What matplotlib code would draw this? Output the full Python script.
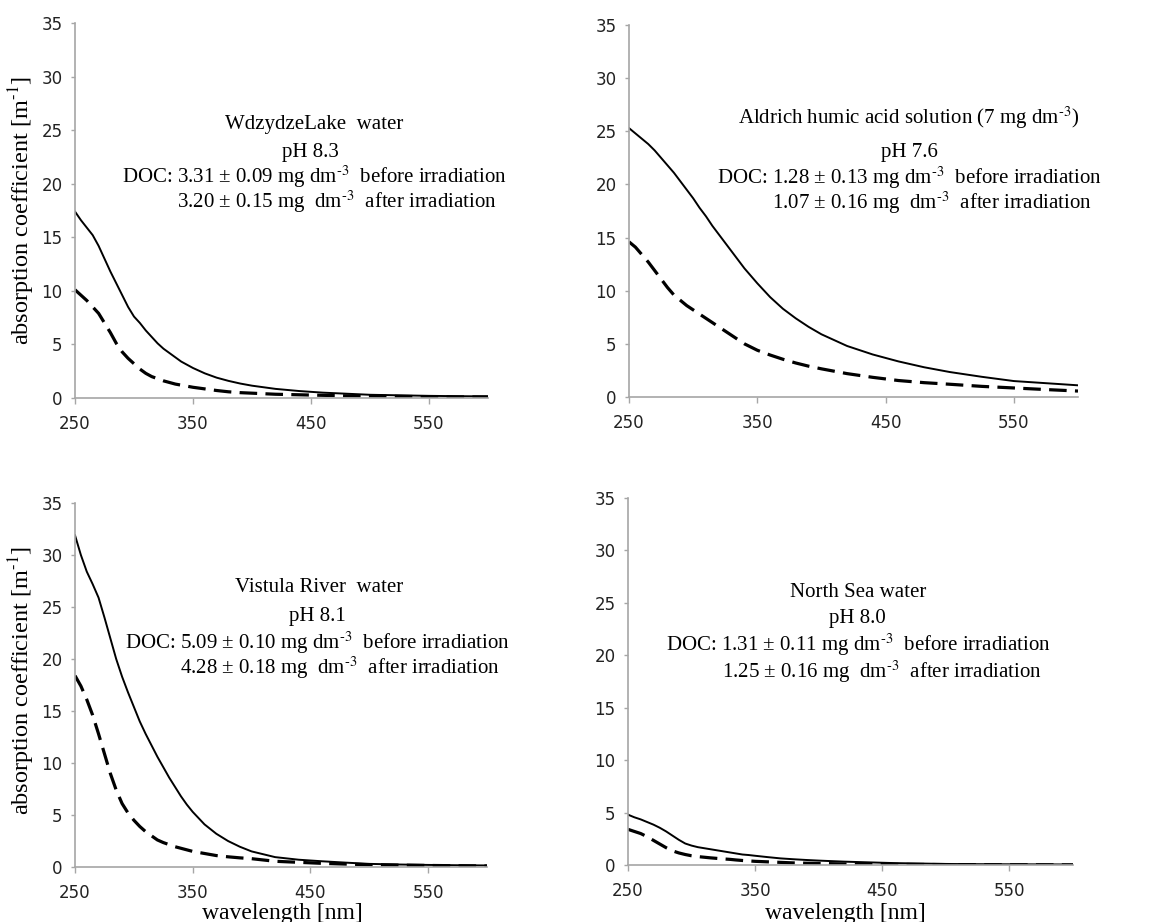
import matplotlib
matplotlib.use("Agg")
import matplotlib.pyplot as plt

# wavelength grid [nm] shared by all four panels
wavelength = [250, 255, 260, 265, 270, 275, 280, 285, 290, 295, 300, 305, 310, 315,
              320, 325, 330, 335, 340, 345, 350, 360, 370, 380, 390, 400,
              420, 440, 460, 480, 500, 525, 550, 575, 600]

# absorption coefficient [m-1], solid = before, dashed = after irradiation
wdzydze_before = [17.4, 16.6, 15.9, 15.2, 14.2, 13.0, 11.8, 10.7, 9.6, 8.5, 7.6, 7.0, 6.3, 5.7,
                  5.1, 4.6, 4.2, 3.8, 3.4, 3.1, 2.8, 2.3, 1.9, 1.6, 1.35, 1.15,
                  0.85, 0.65, 0.5, 0.4, 0.3, 0.25, 0.2, 0.17, 0.15]
wdzydze_after = [10.1, 9.6, 9.1, 8.5, 7.9, 7.0, 6.1, 5.1, 4.3, 3.7, 3.2, 2.7, 2.3, 2.0,
                 1.8, 1.6, 1.45, 1.3, 1.2, 1.1, 1.0, 0.85, 0.7, 0.58, 0.5, 0.45,
                 0.35, 0.3, 0.25, 0.2, 0.18, 0.15, 0.12, 0.1, 0.1]

aldrich_before = [25.3, 24.8, 24.3, 23.8, 23.2, 22.5, 21.8, 21.1, 20.3, 19.5, 18.7, 17.8, 17.0, 16.1,
                  15.3, 14.5, 13.7, 12.9, 12.1, 11.4, 10.7, 9.4, 8.3, 7.4, 6.6, 5.9,
                  4.8, 4.0, 3.35, 2.8, 2.35, 1.9, 1.5, 1.3, 1.1]
aldrich_after = [14.6, 14.1, 13.4, 12.7, 11.9, 11.1, 10.3, 9.6, 9.1, 8.6, 8.2, 7.8, 7.4, 7.0,
                 6.6, 6.2, 5.8, 5.4, 5.0, 4.7, 4.4, 3.95, 3.55, 3.2, 2.9, 2.65,
                 2.2, 1.85, 1.55, 1.35, 1.2, 1.0, 0.85, 0.7, 0.56]

vistula_before = [31.9, 30.0, 28.4, 27.2, 25.9, 24.0, 22.0, 20.0, 18.3, 16.8, 15.4, 14.0, 12.8, 11.7,
                  10.6, 9.6, 8.6, 7.7, 6.8, 6.0, 5.3, 4.1, 3.2, 2.5, 1.95, 1.5,
                  0.95, 0.7, 0.55, 0.42, 0.3, 0.24, 0.2, 0.17, 0.15]
vistula_after = [18.4, 17.4, 16.1, 14.6, 12.8, 10.9, 9.0, 7.4, 6.1, 5.2, 4.5, 3.9, 3.4, 3.0,
                 2.6, 2.35, 2.15, 1.95, 1.8, 1.65, 1.5, 1.3, 1.1, 0.98, 0.88, 0.8,
                 0.55, 0.45, 0.35, 0.28, 0.22, 0.18, 0.15, 0.12, 0.1]

northsea_before = [4.8, 4.55, 4.35, 4.1, 3.85, 3.55, 3.2, 2.8, 2.4, 2.05, 1.85, 1.7, 1.6, 1.5,
                   1.4, 1.3, 1.2, 1.1, 1.0, 0.95, 0.88, 0.75, 0.63, 0.55, 0.48, 0.42,
                   0.32, 0.25, 0.18, 0.14, 0.1, 0.08, 0.07, 0.06, 0.05]
northsea_after = [3.4, 3.2, 3.0, 2.7, 2.35, 2.0, 1.65, 1.35, 1.15, 1.0, 0.88, 0.8, 0.74, 0.68,
                  0.63, 0.58, 0.54, 0.48, 0.43, 0.39, 0.35, 0.3, 0.25, 0.2, 0.17, 0.15,
                  0.1, 0.08, 0.06, 0.05, 0.04, 0.03, 0.02, 0.02, 0.01]

x_ticks = [250, 350, 450, 550]
y_ticks = [0, 5, 10, 15, 20, 25, 30, 35]

sup3 = r"$^{\text{-}3}$"
titles = ["WdzydzeLake  water", "Aldrich humic acid solution (7 mg dm" + sup3 + ")",
          "Vistula River  water", "North Sea water"]
ph_labels = ["pH 8.3", "pH 7.6", "pH 8.1", "pH 8.0"]
doc_before = ["3.31 \u00b1 0.09", "1.28 \u00b1 0.13", "5.09 \u00b1 0.10", "1.31 \u00b1 0.11"]
doc_after = ["3.20 \u00b1 0.15", "1.07 \u00b1 0.16", "4.28 \u00b1 0.18", "1.25 \u00b1 0.16"]

plt.rcParams['mathtext.fontset'] = 'stix'
serif = 'Liberation Serif'

W, H = 1162, 922
fig = plt.figure(figsize=(W / 100, H / 100), dpi=100)

# axes boxes in pixels: left, right, top, bottom
boxes = [(75, 488, 23, 398), (629, 1078, 25, 397),
         (75, 487, 503, 867), (628, 1073, 498, 865)]
series = [(wdzydze_before, wdzydze_after), (aldrich_before, aldrich_after),
          (vistula_before, vistula_after), (northsea_before, northsea_after)]

# text placement (pixels): title centre x, pH centre x, DOC line left x, after line left x, line ys
text_pos = [
    (314, 310, 122, 177, (124, 152, 177, 202)),
    (909, 909, 717, 772, (118, 152, 178, 203)),
    (319, 317, 125, 180, (588, 616, 643, 668)),
    (858, 857, 666, 722, (592, 618, 645, 672)),
]

axis_col = '#a6a6a6'

for i, (l, r, t, b) in enumerate(boxes):
    ax = fig.add_axes([l / W, 1 - b / H, (r - l) / W, (b - t) / H])
    before, after = series[i]
    ax.plot(wavelength, before, color='black', lw=1.4, solid_joinstyle='round')
    ax.plot(wavelength, after, color='black', lw=2.3, linestyle=(0, (5.5, 2.6)))
    ax.set_xlim(250, 600)
    ax.set_ylim(0, 35)
    ax.set_xticks(x_ticks)
    ax.set_yticks(y_ticks)
    for s in ['top', 'right']:
        ax.spines[s].set_visible(False)
    for s in ['left', 'bottom']:
        ax.spines[s].set_color(axis_col)
        ax.spines[s].set_linewidth(1.2)
    ax.tick_params(axis='y', length=3, width=1, color=axis_col, pad=6,
                   labelsize=12, labelcolor='#222222')
    ax.tick_params(axis='x', length=4, width=1, color=axis_col, pad=8,
                   labelsize=12, labelcolor='#222222')
    ax.patch.set_alpha(0)

    cx_title, cx_ph, x_doc, x_after, ys = text_pos[i]
    fs = 15
    fig.text(cx_title / W, 1 - ys[0] / H, titles[i], ha='center', va='center',
             fontsize=fs, family=serif)
    fig.text(cx_ph / W, 1 - ys[1] / H, ph_labels[i], ha='center', va='center',
             fontsize=fs, family=serif)
    fig.text(x_doc / W, 1 - ys[2] / H,
             "DOC: " + doc_before[i] + " mg dm" + sup3 + "  before irradiation",
             ha='left', va='center', fontsize=fs, family=serif)
    fig.text(x_after / W, 1 - ys[3] / H,
             doc_after[i] + " mg  dm" + sup3 + "  after irradiation",
             ha='left', va='center', fontsize=fs, family=serif)

# y labels on left panels
ylab = r"absorption coefficient [m$^{\text{-}1}$]"
fig.text(22 / W, 1 - 211 / H, ylab, rotation=90,
         ha='center', va='center', fontsize=17.5, family=serif)
fig.text(22 / W, 1 - 681 / H, ylab, rotation=90,
         ha='center', va='center', fontsize=17.5, family=serif)

# x labels on bottom panels (cut at the lower edge as in the original)
fig.text(282 / W, 1 - 903 / H, "wavelength [nm]", ha='center', va='top',
         fontsize=17, family=serif)
fig.text(845 / W, 1 - 903 / H, "wavelength [nm]", ha='center', va='top',
         fontsize=17, family=serif)

fig.savefig("out.png", dpi=100)
